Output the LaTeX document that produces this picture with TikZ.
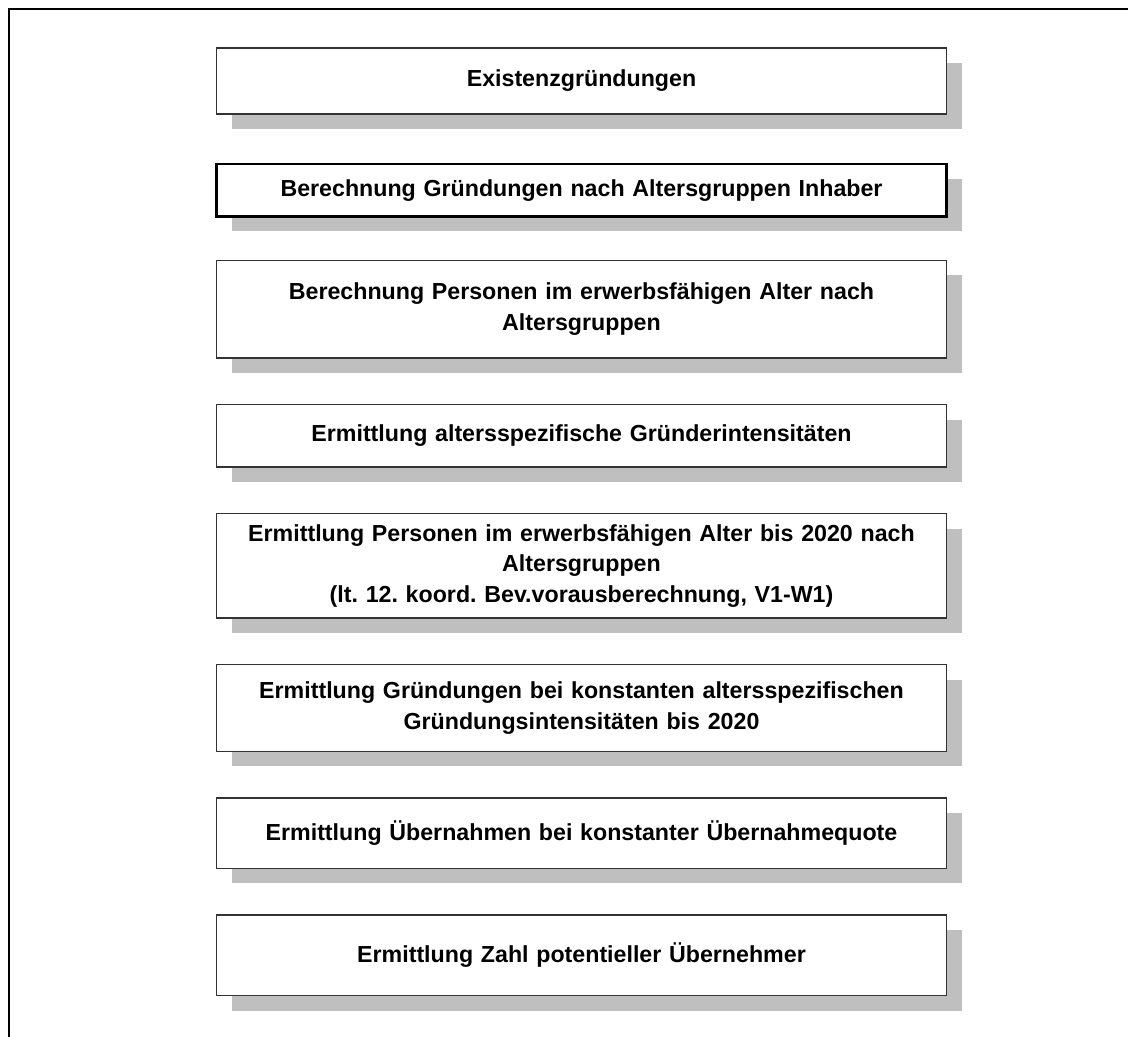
\documentclass[tikz,border=0pt]{standalone}
\usepackage{fontspec}
\setmainfont{Liberation Sans}
\usepackage{tikz}
\usetikzlibrary{positioning, shadows}
\frenchspacing
\tikzstyle{stepbox} = [rectangle, minimum width=365pt,
    align=center, text width=358pt,
    font=\fontsize{11.6}{15.2}\selectfont\bfseries,
    draw=black!80, line width=0.75pt, fill=white,
    drop shadow={shadow xshift=7.5pt, shadow yshift=-7.5pt, fill=black!25, opacity=1}]

\begin{document}
\begin{tikzpicture}[node distance=22.5pt]
  \useasboundingbox (0,0) rectangle (564pt,-518.5pt);
  \draw[line width=1pt] (4.5pt,-518.5pt) -- (4.5pt,-4.5pt) -- (564pt,-4.5pt);

  \node (exist)     [stepbox, minimum height=32.8pt] at (290.75pt,-40.5pt) {Existenzgründungen};
  \node (grdalter)  [stepbox, minimum height=26.3pt, below=24pt of exist, draw=black, line width=1.25pt]
    {Berechnung Gründungen nach Altersgruppen Inhaber};
  \node (perserw)   [stepbox, minimum height=48.8pt, below=21pt of grdalter]
    {Berechnung Personen im erwerbsfähigen Alter nach\\ Altersgruppen};
  \node (intens)    [stepbox, minimum height=31.3pt, below=of perserw]
    {Ermittlung altersspezifische Gründerintensitäten};
  \node (pers2020)  [stepbox, minimum height=52.3pt, below=of intens]
    {Ermittlung Personen im erwerbsfähigen Alter bis 2020 nach\\ Altersgruppen\\ (lt. 12. koord. Bev.vorausberechnung, V1-W1)};
  \node (grd2020)   [stepbox, minimum height=43.3pt, below=of pers2020]
    {Ermittlung Gründungen bei konstanten altersspezifischen\\ Gründungsintensitäten bis 2020};
  \node (uebern)    [stepbox, minimum height=35.3pt, below=of grd2020]
    {Ermittlung Übernahmen bei konstanter Übernahmequote};
  \node (uebnehmer) [stepbox, minimum height=40.3pt, below=of uebern]
    {Ermittlung Zahl potentieller Übernehmer};
\end{tikzpicture}
\end{document}
